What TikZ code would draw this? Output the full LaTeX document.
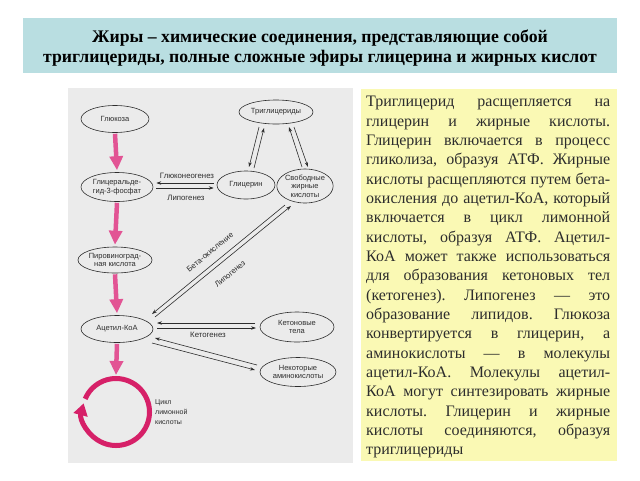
\documentclass[tikz,border=0pt]{standalone}
\usepackage{fontspec}
\setmainfont{Liberation Serif}
\newfontfamily\lsans{Liberation Sans}
\usetikzlibrary{shapes.geometric,arrows.meta,calc}
\definecolor{bandc}{RGB}{185,222,225}
\definecolor{panelc}{RGB}{235,235,235}
\definecolor{notec}{RGB}{250,249,180}
\definecolor{pinkc}{RGB}{226,84,148}
\definecolor{cyclec}{RGB}{214,32,104}
\definecolor{inkc}{RGB}{45,45,45}
\frenchspacing
\begin{document}
\begin{tikzpicture}[x=1pt,y=-1pt,
  ell/.style={ellipse, draw=inkc, line width=0.6pt, inner sep=0pt, font=\lsans\fontsize{7.5}{8.5}\selectfont, text=inkc, align=center},
  arr/.style={draw=inkc, line width=0.6pt, -{Stealth[length=5pt,width=3.4pt]}},
  lbl/.style={font=\lsans\fontsize{7.8}{9}\selectfont, text=inkc, inner sep=0pt, align=left},
  pinkarrow/.style={draw=pinkc, line width=4.5pt, -{Triangle[length=14pt,width=13pt]}},
]
\useasboundingbox (0,0) rectangle (640,480);
\fill[white] (0,0) rectangle (640,480);
\fill[bandc] (23,18) rectangle (617,73);
\fill[panelc] (68,88) rectangle (353,463);
\fill[notec] (361,89) rectangle (617,461);

\node[font=\bfseries\fontsize{17.7}{20.5}\selectfont, align=center, inner sep=0pt] (title) at (320,48)
  {Жиры – химические соединения, представляющие собой\\триглицериды, полные сложные эфиры глицерина и жирных кислот};

% ellipses
\node[ell, minimum width=68pt, minimum height=27pt] (glu) at (115,119) {Глюкоза};
\node[ell, minimum width=72pt, minimum height=29pt] (gap) at (117,187) {Глицеральде-\\гид-3-фосфат};
\node[ell, minimum width=70pt, minimum height=26pt] (pvk) at (115,260) {Пировиноград-\\ная кислота};
\node[ell, minimum width=72pt, minimum height=27pt] (aca) at (117,329) {Ацетил-КоА};
\node[ell, minimum width=74pt, minimum height=24pt] (tri) at (276,112) {Триглицериды};
\node[ell, minimum width=58pt, minimum height=28pt] (gli) at (246,185) {Глицерин};
\node[ell, minimum width=53pt, minimum height=34pt] (sfa) at (305,186) {Свободные\\жирные\\кислоты};
\node[ell, minimum width=74pt, minimum height=30pt] (ket) at (297,327) {Кетоновые\\тела};
\node[ell, minimum width=76pt, minimum height=29pt] (ami) at (298,372) {Некоторые\\аминокислоты};

% pink arrows
\draw[pinkarrow] ($(glu.south)+(0,1)$) -- ($(gap.north)+(0,-2)$);
\draw[pinkarrow] ($(gap.south)+(0,1)$) -- ($(pvk.north)+(0,-2)$);
\draw[pinkarrow] ($(pvk.south)+(0,1)$) -- ($(aca.north)+(0,-2)$);
\coordinate (cyc) at (116,412);
\draw[pinkarrow] ($(aca.south)+(0,1)$) -- ($(cyc)+(0,-37)$);
\draw[cyclec, line width=5pt, -{Triangle[length=12pt,width=14pt]}]
  ([shift={(157:33.5pt)}]cyc) arc[start angle=157, end angle=-195, radius=33.5pt];
\node[lbl, font=\lsans\fontsize{7}{10}\selectfont, anchor=north west] (cyclbl) at (155,399) {Цикл\\лимонной\\кислоты};

% glyceraldehyde <-> glycerol
\draw[arr] ($(gli.west)+(-3,-2)$) -- ($(gap.east)+(3,-4)$);
\draw[arr] ($(gap.east)+(3,1)$) -- ($(gli.west)+(-3,3)$);
\node[lbl] (lgng) at (187,176) {Глюконеогенез};
\node[lbl] (llip1) at (186,198) {Липогенез};

% triglycerides <-> glycerol
\draw[arr] ($(tri)+(-17,15)$) -- ($(gli)+(3,-18)$);
\draw[arr] ($(gli)+(8,-17)$) -- ($(tri)+(-12,16)$);
% triglycerides <-> fatty acids
\draw[arr] ($(sfa)+(-3,-19)$) -- ($(tri)+(13,15)$);
\draw[arr] ($(tri)+(18,15)$) -- ($(sfa)+(3,-19)$);

% fatty acids <-> acetyl-CoA
\draw[arr] ($(sfa)+(-20,19)$) -- ($(aca)+(35,-15)$);
\draw[arr] ($(aca)+(38,-12)$) -- ($(sfa)+(-14,20)$);
\node[lbl, rotate=39.5] (lbeta) at (210,252) {Бета-окисление};
\node[lbl, rotate=39.5] (llip2) at (230,274) {Липогенез};

% acetyl-CoA <-> ketone bodies
\draw[arr] ($(ket)+(-42,-4)$) -- ($(aca)+(40,-6)$);
\draw[arr] ($(aca)+(40,-1)$) -- ($(ket)+(-41,1)$);
\node[lbl] (lketo) at (208,335) {Кетогенез};

% acetyl-CoA <-> amino acids
\draw[arr] ($(ami)+(-41,-7)$) -- ($(aca)+(38,9)$);
\draw[arr] ($(aca)+(35,14)$) -- ($(ami)+(-43,-2)$);

% explanatory text
\node[anchor=north west, inner sep=0pt, align=left, font=\fontsize{16}{19.35}\selectfont, text=inkc] (note) at (366,96) {%
\makebox[244pt][s]{Триглицерид расщепляется на}\\
\makebox[244pt][s]{глицерин и жирные кислоты.}\\
\makebox[244pt][s]{Глицерин включается в процесс}\\
\makebox[244pt][s]{гликолиза, образуя АТФ. Жирные}\\
\makebox[244pt][s]{кислоты расщепляются путем бета-}\\
\makebox[244pt][s]{окисления до ацетил-КоА, который}\\
\makebox[244pt][s]{включается в цикл лимонной}\\
\makebox[244pt][s]{кислоты, образуя АТФ. Ацетил-}\\
\makebox[244pt][s]{КоА может также использоваться}\\
\makebox[244pt][s]{для образования кетоновых тел}\\
\makebox[244pt][s]{(кетогенез). Липогенез — это}\\
\makebox[244pt][s]{образование липидов. Глюкоза}\\
\makebox[244pt][s]{конвертируется в глицерин, а}\\
\makebox[244pt][s]{аминокислоты — в молекулы}\\
\makebox[244pt][s]{ацетил-КоА. Молекулы ацетил-}\\
\makebox[244pt][s]{КоА могут синтезировать жирные}\\
\makebox[244pt][s]{кислоты. Глицерин и жирные}\\
\makebox[244pt][s]{кислоты соединяются, образуя}\\
триглицериды};
\end{tikzpicture}
\end{document}
